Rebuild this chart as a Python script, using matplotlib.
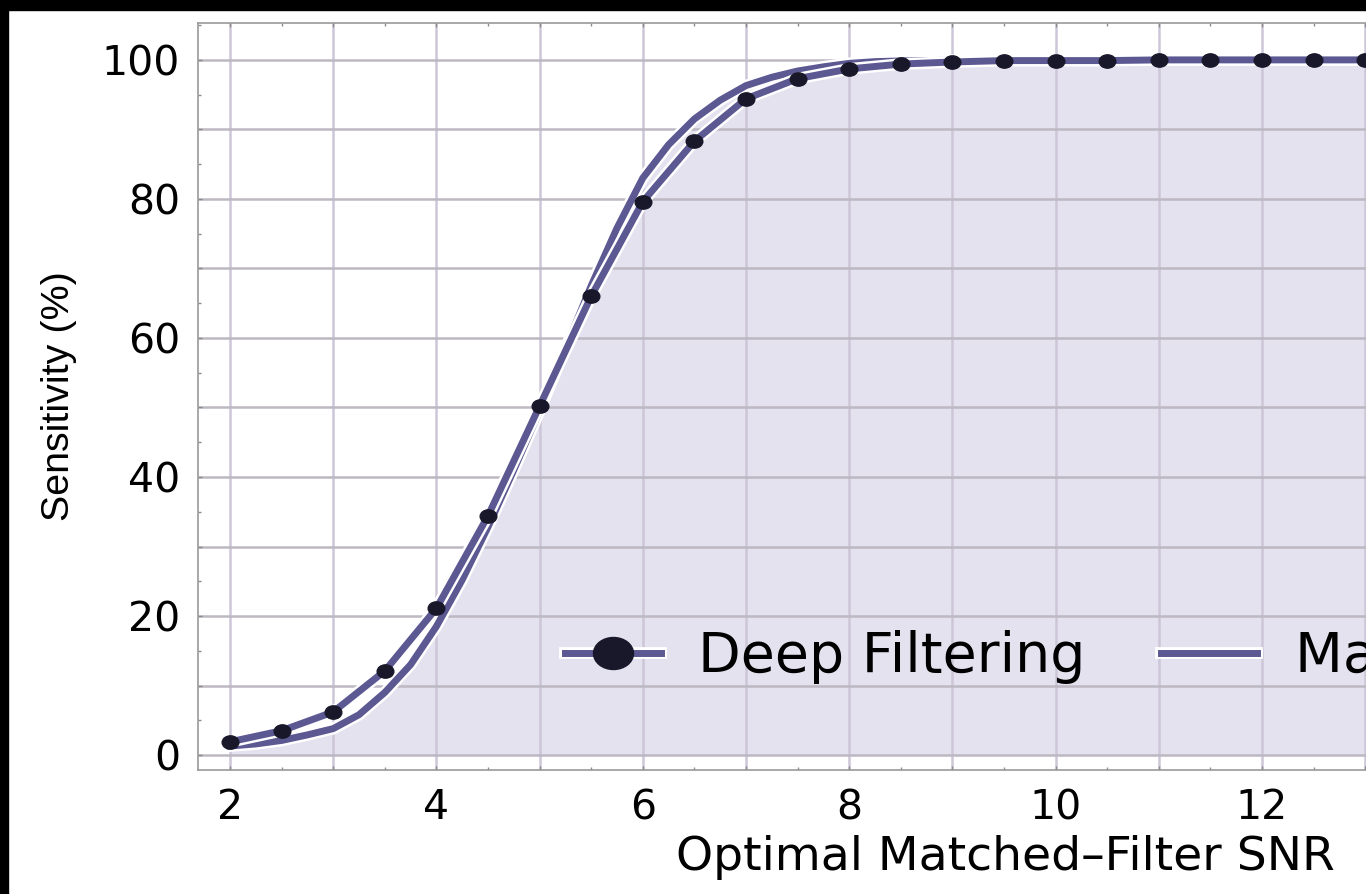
import numpy as np
import matplotlib.pyplot as plt
import matplotlib.patheffects as pe
from matplotlib import font_manager
from matplotlib.legend_handler import HandlerTuple
from matplotlib.path import Path
from matplotlib.transforms import Affine2D
from matplotlib.ticker import MultipleLocator, FuncFormatter
from matplotlib.patches import Rectangle

plt.rcParams['font.family'] = ['DejaVu Sans']

# Deep Filtering sensitivity, sampled every 0.5 in SNR
snr_deep = [2.0, 2.5, 3.0, 3.5, 4.0, 4.5, 5.0, 5.5, 6.0, 6.5, 7.0, 7.5, 8.0,
            8.5, 9.0, 9.5, 10.0, 10.5, 11.0, 11.5, 12.0, 12.5, 13.0, 13.5, 14.0]
sens_deep = [1.9, 3.5, 6.2, 12.1, 21.1, 34.4, 50.2, 66.0, 79.6, 88.3, 94.4, 97.3, 98.7,
             99.4, 99.7, 99.9, 99.9, 99.9, 100.0, 100.0, 100.0, 100.0, 100.0, 100.0, 100.0]

# Matched filter sensitivity curve
snr_mf = [2.0, 2.25, 2.5, 2.75, 3.0, 3.25, 3.5, 3.75, 4.0, 4.25, 4.5, 4.75, 5.0,
          5.25, 5.5, 5.75, 6.0, 6.25, 6.5, 6.75, 7.0, 7.25, 7.5, 7.75, 8.0, 8.25,
          8.5, 9.0, 10.0, 11.0, 12.0, 13.0, 14.0]
sens_mf = [1.3, 1.6, 2.1, 2.9, 3.8, 5.8, 9.0, 13.0, 18.5, 25.2, 32.8, 41.0, 49.5,
           58.5, 67.5, 75.8, 83.0, 87.8, 91.5, 94.2, 96.3, 97.5, 98.4, 99.0, 99.5, 99.75,
           99.85, 99.95, 100.0, 100.0, 100.0, 100.0, 100.0]

line_c = '#5b5892'
dot_c = '#18182a'
fill_c = '#e5e2f0'

# narrow face for the rotated axis label if it is around
names = {f.name for f in font_manager.fontManager.ttflist}
ylab_font = 'Liberation Sans Narrow' if 'Liberation Sans Narrow' in names else 'Liberation Sans'
ylab_size = 33 if ylab_font == 'Liberation Sans Narrow' else 28.4

# slightly wide dot
dot = Path.unit_circle().transformed(Affine2D().scale(1.25, 1.0))

fig = plt.figure(figsize=(13.66, 8.94), dpi=100, facecolor='white')
ax = fig.add_axes([198 / 1366, 1 - 770 / 894, (1812 - 198) / 1366, (770 - 22.7) / 894])
ax.set_xlim(1.69, 17.33)
ax.set_ylim(-2.15, 105.35)

ax.set_axisbelow(True)
ax.fill_between(snr_mf, 0, sens_mf, color=fill_c, lw=0, zorder=0.3)
ax.xaxis.grid(True, which='major', color='#cdc6d8', lw=1.8)
ax.yaxis.grid(True, which='major', color='#bdb8c2', lw=1.8)

halo = [pe.Stroke(linewidth=8.5, foreground='white'), pe.Normal()]
mf_line, = ax.plot(snr_mf, sens_mf, color=line_c, lw=5, zorder=3,
                   path_effects=halo)
deep_line, = ax.plot(snr_deep, sens_deep, color=line_c, lw=5, zorder=4,
                     path_effects=halo)
deep_dots, = ax.plot(snr_deep, sens_deep, ls='none', marker=dot, ms=12,
                     mfc=dot_c, mec=dot_c, zorder=5)

ax.legend([(deep_line, deep_dots), mf_line], ['Deep Filtering', 'Matched Filter'],
          handler_map={tuple: HandlerTuple(ndivide=1)},
          loc='center left', bbox_to_anchor=(5.246, 14.07),
          bbox_transform=ax.transData, ncol=2, frameon=False, fontsize=40,
          handlelength=1.73, handletextpad=0.67, columnspacing=1.36,
          markerscale=2.4, borderpad=0, borderaxespad=0)

ax.xaxis.set_major_locator(MultipleLocator(1))
ax.xaxis.set_minor_locator(MultipleLocator(0.5))
ax.yaxis.set_major_locator(MultipleLocator(10))
ax.yaxis.set_minor_locator(MultipleLocator(5))
ax.xaxis.set_major_formatter(FuncFormatter(lambda v, p: f'{v:.0f}' if round(v) % 2 == 0 else ''))
ax.yaxis.set_major_formatter(FuncFormatter(lambda v, p: f'{v:.0f}' if round(v) % 20 == 0 else ''))

ax.tick_params(which='both', direction='in', top=True, right=True,
               color='#8a8a8a', labelsize=29.5, pad=13)
ax.tick_params(which='major', length=3, width=1)
ax.tick_params(which='minor', length=2, width=1)
for s in ax.spines.values():
    s.set_color('#9a9a9a')
    s.set_linewidth(1.2)

ax.set_xlabel('Optimal Matched\u2013Filter SNR', fontsize=34, labelpad=5)
ax.set_ylabel('Sensitivity (%)', fontsize=ylab_size, family=ylab_font, labelpad=18)

# dark border strips along the top and left edges
fig.add_artist(Rectangle((0, 1 - 10 / 894), 1, 10 / 894, transform=fig.transFigure,
                         color='black', zorder=10))
fig.add_artist(Rectangle((0, 0), 8 / 1366, 1, transform=fig.transFigure,
                         color='black', zorder=10))

fig.savefig('out.png', dpi=100, facecolor='white')
